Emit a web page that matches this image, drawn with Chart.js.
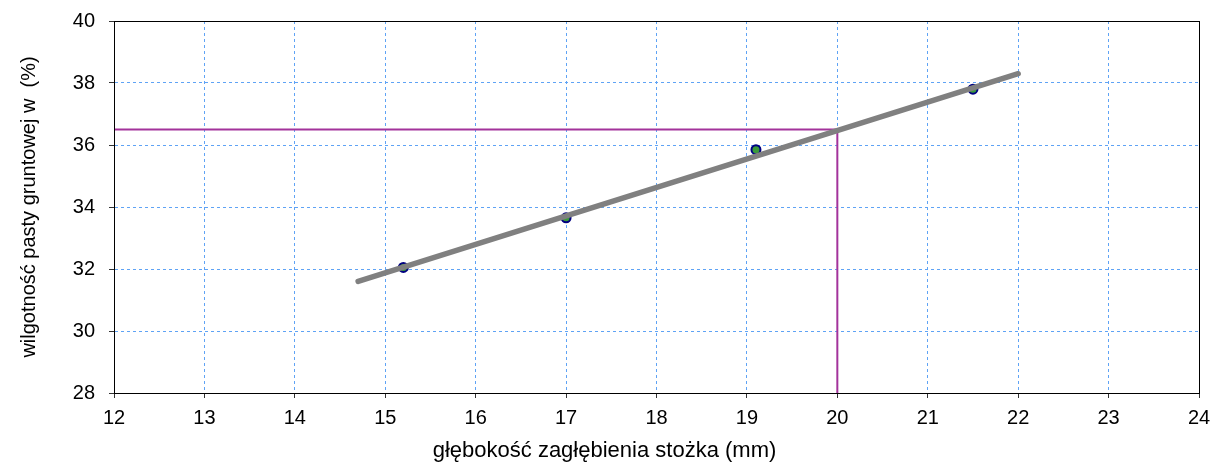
<!DOCTYPE html>
<html>
<head>
<meta charset="utf-8">
<script src="https://cdn.jsdelivr.net/npm/chart.js@4.4.1/dist/chart.umd.min.js"></script>
<style>
  html, body { margin: 0; padding: 0; background: #fff; }
  #wrap { width: 1213px; height: 465px; }
</style>
</head>
<body>
<div id="wrap"><canvas id="c" width="1213" height="465"></canvas></div>
<script>
// measured points: cone depth (mm) vs water content (%)
const depth = [15.2, 17.0, 19.1, 21.5];
const moisture = [32.05, 33.65, 35.85, 37.8];

// fitted line ends
const trendX = [14.7, 22.0];
const trendY = [31.6, 38.3];

// reading at 20 mm
const readX = [12, 20, 20];
const readY = [36.5, 36.5, 28];

const xTicks = [12, 13, 14, 15, 16, 17, 18, 19, 20, 21, 22, 23, 24];
const yTicks = [28, 30, 32, 34, 36, 38, 40];

const xTitle = 'głębokość zagłębienia stożka (mm)';
const yTitle = 'wilgotność pasty gruntowej w  (%)';

function pairs(xs, ys) {
    return xs.map((x, i) => ({ x: x, y: ys[i] }));
}

const FONT = '"Liberation Sans", Arial, sans-serif';

// same snapping chart.js uses for 1px lines
function snap(p) {
    return Math.round(p - 0.5) + 0.5;
}

// black frame round the plot area, x title centred on the whole chart (as excel does)
const frame = {
    id: 'frame',
    afterDraw(chart) {
        const a = chart.chartArea;
        const ctx = chart.ctx;
        ctx.save();
        ctx.strokeStyle = '#000';
        ctx.lineWidth = 1;
        const l = snap(a.left), r = snap(a.right), t = snap(a.top), b = snap(a.bottom);
        ctx.strokeRect(l, t, r - l, b - t);

        ctx.fillStyle = '#000';
        ctx.font = '22px ' + FONT;
        ctx.textAlign = 'center';
        ctx.textBaseline = 'middle';
        ctx.fillText(xTitle, chart.width / 2 - 2, 451);
        ctx.restore();
    }
};

Chart.defaults.font.family = FONT;
Chart.defaults.color = '#000';

const gridOpts = {
    color: '#5fa3f5',
    lineWidth: 1,
    tickColor: '#333',
    tickLength: 5,
    tickBorderDash: [1, 0]
};

new Chart(document.getElementById('c'), {
    type: 'scatter',
    data: {
        datasets: [
            {
                type: 'line',
                data: pairs(trendX, trendY),
                borderColor: '#808080',
                borderWidth: 5.5,
                borderCapStyle: 'round',
                pointRadius: 0,
                fill: false,
                order: 0
            },
            {
                type: 'line',
                data: pairs(readX, readY),
                borderColor: '#a3339b',
                borderWidth: 2,
                pointRadius: 0,
                fill: false,
                order: 1
            },
            {
                data: pairs(depth, moisture),
                backgroundColor: '#3a9a3a',
                borderColor: '#000080',
                borderWidth: 2,
                pointRadius: 4.5,
                order: 2
            }
        ]
    },
    options: {
        responsive: false,
        animation: false,
        layout: { padding: { left: 0, top: 21, right: 14, bottom: 0 } },
        plugins: {
            legend: { display: false },
            tooltip: { enabled: false }
        },
        scales: {
            x: {
                type: 'linear',
                min: 12,
                max: 24,
                afterBuildTicks: (s) => { s.ticks = xTicks.map(v => ({ value: v })); },
                afterFit: (s) => { s.height = 72; s.paddingLeft = 0; s.paddingRight = 0; },
                grid: gridOpts,
                border: { display: true, color: '#000', dash: [3, 3] },
                ticks: { font: { size: 20 }, padding: 8 }
            },
            y: {
                type: 'linear',
                min: 28,
                max: 40,
                afterBuildTicks: (s) => { s.ticks = yTicks.map(v => ({ value: v })); },
                afterFit: (s) => { s.width = 114; s.paddingTop = 0; s.paddingBottom = 0; },
                grid: gridOpts,
                border: { display: true, color: '#000', dash: [3, 3] },
                ticks: { font: { size: 20 }, padding: 14 },
                title: {
                    display: true,
                    text: yTitle,
                    font: { size: 20 },
                    padding: { top: 17, bottom: 0 }
                }
            }
        }
    },
    plugins: [frame]
});
</script>
</body>
</html>
